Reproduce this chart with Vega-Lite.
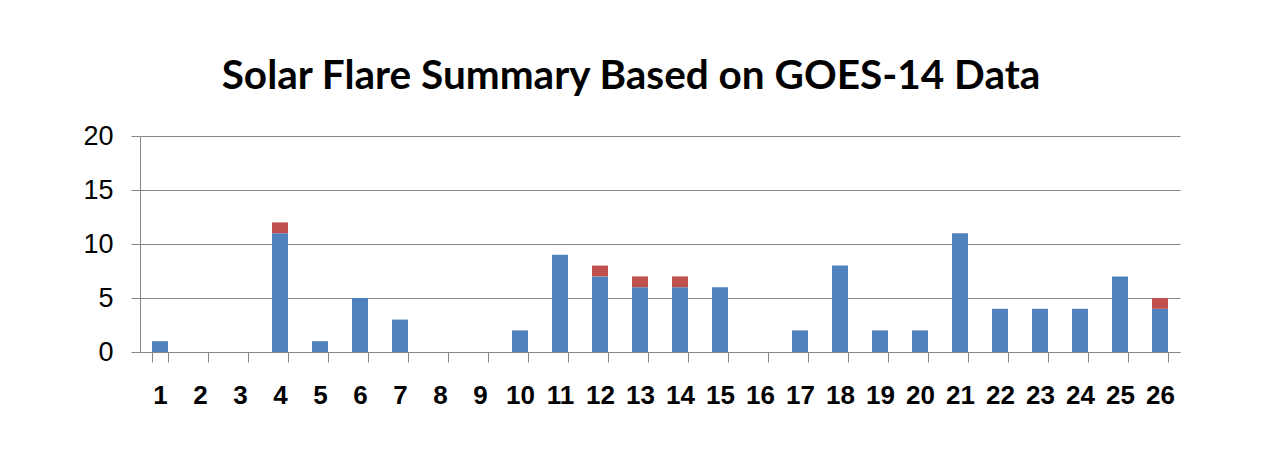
{
  "$schema": "https://vega.github.io/schema/vega-lite/v6.json",
  "width": 1040,
  "height": 216,
  "autosize": {"type": "none"},
  "padding": {"left": 140, "top": 136, "right": 81, "bottom": 103},
  "background": "white",
  "title": {
    "text": "Solar Flare Summary Based on GOES-14 Data",
    "font": "Lato",
    "fontSize": 40.5,
    "fontWeight": "bold",
    "color": "#000000",
    "anchor": "middle",
    "dx": -29,
    "offset": 25
  },
  "data": {
    "values": [
      {"day": 1, "cls": "C", "n": 1}, {"day": 1, "cls": "M", "n": 0},
      {"day": 2, "cls": "C", "n": 0}, {"day": 2, "cls": "M", "n": 0},
      {"day": 3, "cls": "C", "n": 0}, {"day": 3, "cls": "M", "n": 0},
      {"day": 4, "cls": "C", "n": 11}, {"day": 4, "cls": "M", "n": 1},
      {"day": 5, "cls": "C", "n": 1}, {"day": 5, "cls": "M", "n": 0},
      {"day": 6, "cls": "C", "n": 5}, {"day": 6, "cls": "M", "n": 0},
      {"day": 7, "cls": "C", "n": 3}, {"day": 7, "cls": "M", "n": 0},
      {"day": 8, "cls": "C", "n": 0}, {"day": 8, "cls": "M", "n": 0},
      {"day": 9, "cls": "C", "n": 0}, {"day": 9, "cls": "M", "n": 0},
      {"day": 10, "cls": "C", "n": 2}, {"day": 10, "cls": "M", "n": 0},
      {"day": 11, "cls": "C", "n": 9}, {"day": 11, "cls": "M", "n": 0},
      {"day": 12, "cls": "C", "n": 7}, {"day": 12, "cls": "M", "n": 1},
      {"day": 13, "cls": "C", "n": 6}, {"day": 13, "cls": "M", "n": 1},
      {"day": 14, "cls": "C", "n": 6}, {"day": 14, "cls": "M", "n": 1},
      {"day": 15, "cls": "C", "n": 6}, {"day": 15, "cls": "M", "n": 0},
      {"day": 16, "cls": "C", "n": 0}, {"day": 16, "cls": "M", "n": 0},
      {"day": 17, "cls": "C", "n": 2}, {"day": 17, "cls": "M", "n": 0},
      {"day": 18, "cls": "C", "n": 8}, {"day": 18, "cls": "M", "n": 0},
      {"day": 19, "cls": "C", "n": 2}, {"day": 19, "cls": "M", "n": 0},
      {"day": 20, "cls": "C", "n": 2}, {"day": 20, "cls": "M", "n": 0},
      {"day": 21, "cls": "C", "n": 11}, {"day": 21, "cls": "M", "n": 0},
      {"day": 22, "cls": "C", "n": 4}, {"day": 22, "cls": "M", "n": 0},
      {"day": 23, "cls": "C", "n": 4}, {"day": 23, "cls": "M", "n": 0},
      {"day": 24, "cls": "C", "n": 4}, {"day": 24, "cls": "M", "n": 0},
      {"day": 25, "cls": "C", "n": 7}, {"day": 25, "cls": "M", "n": 0},
      {"day": 26, "cls": "C", "n": 4}, {"day": 26, "cls": "M", "n": 1}
    ]
  },
  "mark": {"type": "bar"},
  "encoding": {
    "x": {
      "field": "day",
      "type": "ordinal",
      "sort": "ascending",
      "scale": {"paddingInner": 0.6, "paddingOuter": 0.3},
      "axis": {
        "title": null,
        "labelAngle": 0,
        "labelFont": "Liberation Sans",
        "labelFontSize": 26,
        "labelFontWeight": "bold",
        "labelColor": "#000000",
        "labelPadding": 20,
        "tickBand": "extent",
        "tickSize": 10,
        "tickColor": "#868686",
        "domainColor": "#868686",
        "grid": false
      }
    },
    "y": {
      "field": "n",
      "type": "quantitative",
      "stack": "zero",
      "scale": {"domain": [0, 20], "nice": false},
      "axis": {
        "title": null,
        "values": [0, 5, 10, 15, 20],
        "labelFont": "Liberation Sans",
        "labelFontSize": 27,
        "labelColor": "#000000",
        "labelPadding": 18,
        "tickSize": 9,
        "tickColor": "#868686",
        "domainColor": "#868686",
        "grid": true,
        "gridColor": "#868686",
        "gridOpacity": 1
      }
    },
    "color": {
      "field": "cls",
      "type": "nominal",
      "scale": {"domain": ["C", "M"], "range": ["#4F81BD", "#C0504D"]},
      "legend": null
    },
    "order": {"field": "cls", "sort": "ascending"}
  },
  "config": {"view": {"stroke": null}}
}
